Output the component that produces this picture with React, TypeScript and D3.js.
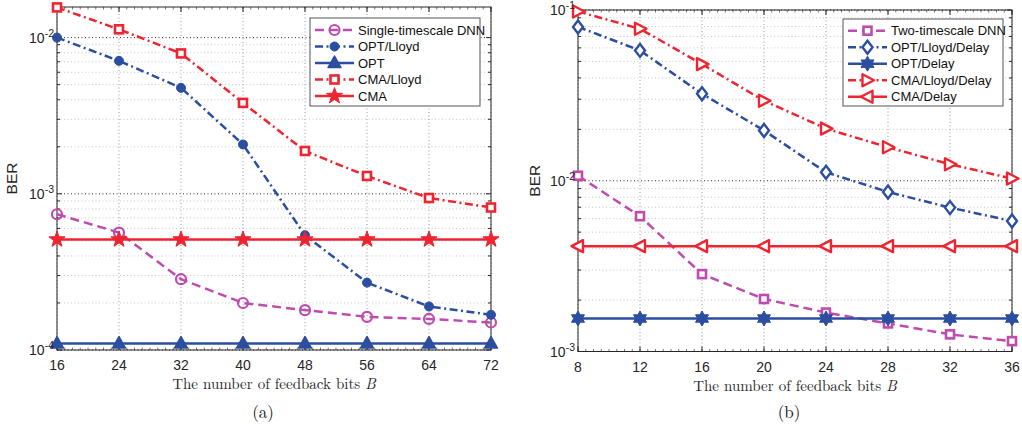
import React from "react";
import * as d3 from "d3";

// ---------- data ----------
const bitsA = [16, 24, 32, 40, 48, 56, 64, 72];
const dnnA = [7.4e-4, 5.65e-4, 2.84e-4, 2.0e-4, 1.8e-4, 1.63e-4, 1.58e-4, 1.5e-4];
const optLloydA = [1.0e-2, 7.1e-3, 4.77e-3, 2.07e-3, 5.43e-4, 2.7e-4, 1.9e-4, 1.68e-4];
const optA = [1.1e-4, 1.1e-4, 1.1e-4, 1.1e-4, 1.1e-4, 1.1e-4, 1.1e-4, 1.1e-4];
const cmaLloydA = [1.56e-2, 1.13e-2, 7.92e-3, 3.82e-3, 1.88e-3, 1.3e-3, 9.4e-4, 8.17e-4];
const cmaA = [5.1e-4, 5.1e-4, 5.1e-4, 5.1e-4, 5.1e-4, 5.1e-4, 5.1e-4, 5.1e-4];

const bitsB = [8, 12, 16, 20, 24, 28, 32, 36];
const dnnB = [1.07e-2, 6.2e-3, 2.84e-3, 2.03e-3, 1.69e-3, 1.46e-3, 1.26e-3, 1.15e-3];
const optLloydB = [7.96e-2, 5.8e-2, 3.23e-2, 1.97e-2, 1.12e-2, 8.6e-3, 6.96e-3, 5.81e-3];
const optB = [1.56e-3, 1.56e-3, 1.56e-3, 1.56e-3, 1.56e-3, 1.56e-3, 1.56e-3, 1.56e-3];
const cmaLloydB = [9.8e-2, 7.76e-2, 4.82e-2, 2.94e-2, 2.02e-2, 1.57e-2, 1.25e-2, 1.03e-2];
const cmaB = [4.14e-3, 4.14e-3, 4.14e-3, 4.14e-3, 4.14e-3, 4.14e-3, 4.14e-3, 4.14e-3];

const namesA = ["Single-timescale DNN", "OPT/Lloyd", "OPT", "CMA/Lloyd", "CMA"];
const namesB = ["Two-timescale DNN", "OPT/Lloyd/Delay", "OPT/Delay", "CMA/Lloyd/Delay", "CMA/Delay"];

const MAG = "#BE4CAE";
const BLUE = "#2C4EA0";
const RED = "#EE2530";
const DASH = "9,5";
const DASHDOT = "8,3.5,2,3.5";

type Marker = "circleOpen" | "circleFill" | "triUp" | "square" | "star5" | "diamond" | "hexagram" | "triRight" | "triLeft";

function starPath(n: number, ro: number, ri: number, rot = -Math.PI / 2) {
  const pts: string[] = [];
  for (let i = 0; i < 2 * n; i++) {
    const r = i % 2 === 0 ? ro : ri;
    const a = rot + (i * Math.PI) / n;
    pts.push(`${(r * Math.cos(a)).toFixed(2)},${(r * Math.sin(a)).toFixed(2)}`);
  }
  return "M" + pts.join("L") + "Z";
}

function MarkerShape({ type, x, y, color }: { type: Marker; x: number; y: number; color: string }) {
  const t = `translate(${x},${y})`;
  switch (type) {
    case "circleOpen":
      return <circle cx={x} cy={y} r={5} fill="none" stroke={color} strokeWidth={2.2} />;
    case "circleFill":
      return <circle cx={x} cy={y} r={4.5} fill={color} stroke={color} strokeWidth={1} />;
    case "triUp":
      return <path transform={t} d="M0,-7L6.5,4.5L-6.5,4.5Z" fill={color} stroke={color} strokeWidth={1.5} strokeLinejoin="round" />;
    case "square":
      return <rect x={x - 4} y={y - 4} width={8} height={8} fill="#fff" stroke={color} strokeWidth={2.6} />;
    case "star5":
      return <path transform={t} d={starPath(5, 8.5, 3.4)} fill={color} stroke={color} strokeWidth={1} />;
    case "diamond":
      return <path transform={t} d="M0,-6.5L5,0L0,6.5L-5,0Z" fill="#fff" stroke={color} strokeWidth={2.4} />;
    case "hexagram":
      return <path transform={t} d={starPath(6, 7.5, 4.3)} fill={color} stroke={color} strokeWidth={1} />;
    case "triRight":
      return <path transform={t} d="M6.5,0L-5,-6L-5,6Z" fill="#fff" stroke={color} strokeWidth={2.4} strokeLinejoin="round" />;
    case "triLeft":
      return <path transform={t} d="M-6.5,0L5,-6L5,6Z" fill="#fff" stroke={color} strokeWidth={2.4} strokeLinejoin="round" />;
  }
  return null;
}

interface Series {
  name: string;
  values: number[];
  color: string;
  dash?: string;
  marker: Marker;
}

interface PanelProps {
  x0: number;
  x1: number;
  yTop: number;
  yBot: number;
  xs: number[];
  xDomain: [number, number];
  yDomain: [number, number];
  series: Series[];
  legend: { x: number; y: number; w: number; h: number; textX: number; lineX0: number; lineX1: number; row0: number; rowH: number };
  caption: string;
  captionX: number;
  berX: number;
  xMinorStep: number;
}

const fontSans = "'Liberation Sans', Arial, sans-serif";
const fontSerif = "'Latin Modern Roman','DejaVu Serif','Liberation Serif', serif";

function Panel(p: PanelProps) {
  const xs = d3.scaleLinear().domain(p.xDomain).range([p.x0, p.x1]);
  const ys = d3.scaleLog().domain(p.yDomain).range([p.yBot, p.yTop]);
  const lo = Math.round(Math.log10(p.yDomain[0]));
  const hi = Math.ceil(Math.log10(p.yDomain[1]));
  const majors: number[] = [];
  const minors: number[] = [];
  for (let e = lo; e <= hi; e++) {
    const v = Math.pow(10, e);
    if (v >= p.yDomain[0] * 0.999 && v <= p.yDomain[1] * 1.001) majors.push(e);
    for (let k = 2; k <= 9; k++) {
      const m = k * v;
      if (m > p.yDomain[0] && m < p.yDomain[1]) minors.push(m);
    }
  }
  const xMinor = d3.range(p.xDomain[0], p.xDomain[1] + 1e-9, p.xMinorStep);
  const line = d3
    .line<number>()
    .x((_, i) => xs(p.xs[i]))
    .y((d) => ys(d));
  const axisColor = "#262626";
  const midY = (p.yTop + p.yBot) / 2;
  return (
    <g>
      {minors.map((m, i) => (
        <line key={"mg" + i} x1={p.x0} x2={p.x1} y1={ys(m)} y2={ys(m)} stroke="#c8c8c8" strokeWidth={1} strokeDasharray="1,2.5" />
      ))}
      {majors.map((e) => (
        <line key={"Mg" + e} x1={p.x0} x2={p.x1} y1={ys(Math.pow(10, e))} y2={ys(Math.pow(10, e))} stroke="#333" strokeWidth={1} strokeDasharray="1,2.5" />
      ))}
      {p.xs.map((v) => (
        <line key={"xg" + v} x1={xs(v)} x2={xs(v)} y1={p.yTop} y2={p.yBot} stroke="#999" strokeWidth={1} strokeDasharray="1,2.5" />
      ))}
      {minors.map((m, i) => (
        <g key={"mt" + i}>
          <line x1={p.x0} x2={p.x0 + 3} y1={ys(m)} y2={ys(m)} stroke={axisColor} />
          <line x1={p.x1} x2={p.x1 - 3} y1={ys(m)} y2={ys(m)} stroke={axisColor} />
        </g>
      ))}
      {xMinor.map((v, i) => (
        <g key={"xm" + i}>
          <line x1={xs(v)} x2={xs(v)} y1={p.yBot} y2={p.yBot - 2.5} stroke="#555" strokeWidth={0.8} />
          <line x1={xs(v)} x2={xs(v)} y1={p.yTop} y2={p.yTop + 2.5} stroke="#555" strokeWidth={0.8} />
        </g>
      ))}
      {majors.map((e) => (
        <g key={"Mt" + e}>
          <line x1={p.x0} x2={p.x0 + 5} y1={ys(Math.pow(10, e))} y2={ys(Math.pow(10, e))} stroke={axisColor} />
          <line x1={p.x1} x2={p.x1 - 5} y1={ys(Math.pow(10, e))} y2={ys(Math.pow(10, e))} stroke={axisColor} />
        </g>
      ))}
      {p.xs.map((v) => (
        <g key={"xt" + v}>
          <line x1={xs(v)} x2={xs(v)} y1={p.yBot} y2={p.yBot - 5} stroke={axisColor} />
          <line x1={xs(v)} x2={xs(v)} y1={p.yTop} y2={p.yTop + 5} stroke={axisColor} />
        </g>
      ))}
      <rect x={p.x0} y={p.yTop} width={p.x1 - p.x0} height={p.yBot - p.yTop} fill="none" stroke={axisColor} strokeWidth={1} />
      {p.series.map((s) => (
        <g key={s.name}>
          <path d={line(s.values) || ""} fill="none" stroke={s.color} strokeWidth={2.5} strokeDasharray={s.dash} />
          {s.values.map((v, i) => (
            <MarkerShape key={i} type={s.marker} x={xs(p.xs[i])} y={ys(v)} color={s.color} />
          ))}
        </g>
      ))}
      {p.xs.map((v) => (
        <text key={"xl" + v} x={xs(v)} y={p.yBot + 20} textAnchor="middle" fontFamily={fontSans} fontSize={14} fill={axisColor}>
          {v}
        </text>
      ))}
      {majors.map((e) => (
        <text key={"yl" + e} x={p.x0 - 3} y={ys(Math.pow(10, e)) + 5} textAnchor="end" fontFamily={fontSans} fontSize={14} fill={axisColor}>
          10<tspan dy={-6} fontSize={10.5}>{e}</tspan>
        </text>
      ))}
      <text transform={`translate(${p.berX},${midY}) rotate(-90)`} textAnchor="middle" fontFamily={fontSans} fontSize={15.5} fill={axisColor}>
        BER
      </text>
      <text x={(p.x0 + p.x1) / 2} y={p.yBot + 39} textAnchor="middle" fontFamily={fontSerif} fontSize={15} fill={axisColor}>
        The number of feedback bits <tspan fontStyle="italic">B</tspan>
      </text>
      <text x={p.captionX} y={418} textAnchor="middle" fontFamily={fontSerif} fontSize={17} fill="#111">
        {p.caption}
      </text>
      <rect x={p.legend.x} y={p.legend.y} width={p.legend.w} height={p.legend.h} fill="#fff" stroke="#555" strokeWidth={1} />
      {p.series.map((s, i) => {
        const ry = p.legend.row0 + i * p.legend.rowH;
        const mx = (p.legend.lineX0 + p.legend.lineX1) / 2;
        return (
          <g key={"lg" + s.name}>
            <line x1={p.legend.lineX0} x2={p.legend.lineX1} y1={ry} y2={ry} stroke={s.color} strokeWidth={2.5} strokeDasharray={s.dash} />
            <MarkerShape type={s.marker} x={mx} y={ry} color={s.color} />
            <text x={p.legend.textX} y={ry + 4.5} fontFamily={fontSans} fontSize={13} fill="#111">
              {s.name}
            </text>
          </g>
        );
      })}
    </g>
  );
}

export default function App() {
  const seriesA: Series[] = [
    { name: namesA[0], values: dnnA, color: MAG, dash: DASH, marker: "circleOpen" },
    { name: namesA[1], values: optLloydA, color: BLUE, dash: DASHDOT, marker: "circleFill" },
    { name: namesA[2], values: optA, color: BLUE, marker: "triUp" },
    { name: namesA[3], values: cmaLloydA, color: RED, dash: DASHDOT, marker: "square" },
    { name: namesA[4], values: cmaA, color: RED, marker: "star5" },
  ];
  const seriesB: Series[] = [
    { name: namesB[0], values: dnnB, color: MAG, dash: DASH, marker: "square" },
    { name: namesB[1], values: optLloydB, color: BLUE, dash: DASHDOT, marker: "diamond" },
    { name: namesB[2], values: optB, color: BLUE, marker: "hexagram" },
    { name: namesB[3], values: cmaLloydB, color: RED, dash: DASHDOT, marker: "triRight" },
    { name: namesB[4], values: cmaB, color: RED, marker: "triLeft" },
  ];
  return (
    <svg width={1022} height={437} style={{ position: "absolute", left: 0, top: 0, background: "#fff" }}>
      <rect width={1022} height={437} fill="#fff" />
      <Panel
        x0={57}
        x1={491}
        yTop={7}
        yBot={350}
        xs={bitsA}
        xDomain={[16, 72]}
        yDomain={[1e-4, 1.57e-2]}
        series={seriesA}
        legend={{ x: 310, y: 18, w: 170, h: 88, textX: 358, lineX0: 315, lineX1: 354, row0: 30, rowH: 16.5 }}
        caption="(a)"
        captionX={263}
        berX={17}
        xMinorStep={1}
      />
      <Panel
        x0={578}
        x1={1012}
        yTop={10}
        yBot={351.5}
        xs={bitsB}
        xDomain={[8, 36]}
        yDomain={[1e-3, 1e-1]}
        series={seriesB}
        legend={{ x: 843, y: 19, w: 160, h: 87, textX: 891, lineX0: 848, lineX1: 887, row0: 30.7, rowH: 16.5 }}
        caption="(b)"
        captionX={789}
        berX={540}
        xMinorStep={0.5}
      />
    </svg>
  );
}
